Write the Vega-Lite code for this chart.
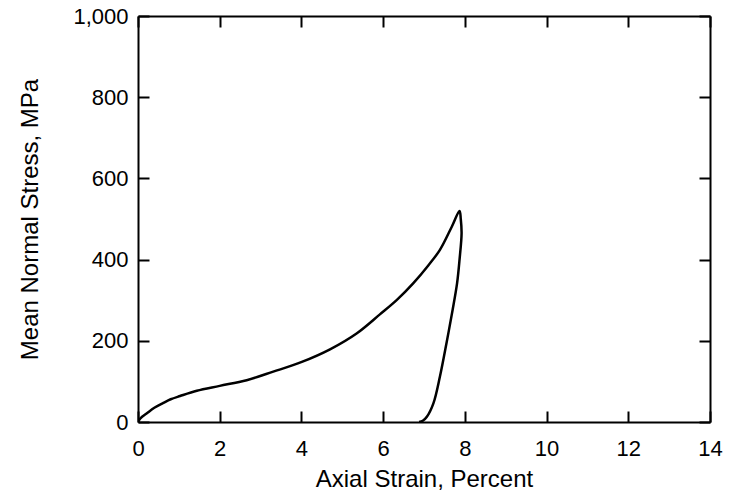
{
  "$schema": "https://vega.github.io/schema/vega-lite/v6.json",
  "width": 572,
  "height": 406,
  "autosize": {"type": "none"},
  "padding": {"left": 138, "top": 16, "right": 26, "bottom": 76},
  "background": "white",
  "config": {
    "view": {"stroke": null},
    "font": "Liberation Sans",
    "axis": {
      "domainColor": "black",
      "domainWidth": 2,
      "tickColor": "black",
      "tickWidth": 2,
      "tickSize": -11,
      "grid": false,
      "labelFlush": false,
      "labelFont": "Liberation Sans",
      "labelFontSize": 22,
      "labelColor": "black",
      "titleFont": "Liberation Sans",
      "titleFontSize": 24,
      "titleFontWeight": "normal",
      "titleColor": "black"
    }
  },
  "data": {
    "values": [
      {"i": 0, "strain": 0, "stress": 0},
      {"i": 1, "strain": 0.05, "stress": 8},
      {"i": 2, "strain": 0.1, "stress": 13},
      {"i": 3, "strain": 0.21, "stress": 21},
      {"i": 4, "strain": 0.4, "stress": 35},
      {"i": 5, "strain": 0.62, "stress": 47},
      {"i": 6, "strain": 0.8, "stress": 56},
      {"i": 7, "strain": 1.03, "stress": 64},
      {"i": 8, "strain": 1.44, "stress": 77},
      {"i": 9, "strain": 2.0, "stress": 89},
      {"i": 10, "strain": 2.66, "stress": 103},
      {"i": 11, "strain": 3.31, "stress": 124},
      {"i": 12, "strain": 4.01, "stress": 148},
      {"i": 13, "strain": 4.7, "stress": 179},
      {"i": 14, "strain": 5.35, "stress": 218},
      {"i": 15, "strain": 5.92, "stress": 265},
      {"i": 16, "strain": 6.33, "stress": 300},
      {"i": 17, "strain": 6.74, "stress": 342},
      {"i": 18, "strain": 7.1, "stress": 385},
      {"i": 19, "strain": 7.39, "stress": 424},
      {"i": 20, "strain": 7.68, "stress": 481},
      {"i": 21, "strain": 7.87, "stress": 520},
      {"i": 22, "strain": 7.9, "stress": 500},
      {"i": 23, "strain": 7.92, "stress": 465},
      {"i": 24, "strain": 7.87, "stress": 400},
      {"i": 25, "strain": 7.81, "stress": 342},
      {"i": 26, "strain": 7.7, "stress": 276},
      {"i": 27, "strain": 7.55, "stress": 194},
      {"i": 28, "strain": 7.39, "stress": 112},
      {"i": 29, "strain": 7.23, "stress": 46},
      {"i": 30, "strain": 7.07, "stress": 13},
      {"i": 31, "strain": 6.97, "stress": 3},
      {"i": 32, "strain": 6.88, "stress": 0}
    ]
  },
  "layer": [
    {
      "mark": {"type": "line", "color": "black", "strokeWidth": 2.5, "interpolate": "catmull-rom", "clip": true},
      "encoding": {
        "x": {
          "field": "strain", "type": "quantitative",
          "scale": {"domain": [0, 14], "nice": false},
          "axis": {"values": [0, 2, 4, 6, 8, 10, 12, 14], "title": "Axial Strain, Percent", "labelPadding": 27, "titlePadding": 8}
        },
        "y": {
          "field": "stress", "type": "quantitative",
          "scale": {"domain": [0, 1000], "nice": false},
          "axis": {"values": [0, 200, 400, 600, 800, 1000], "format": ",d", "title": "Mean Normal Stress, MPa", "labelPadding": 21, "titlePadding": 30}
        },
        "order": {"field": "i", "type": "quantitative"}
      }
    },
    {
      "mark": {"type": "line", "opacity": 0},
      "encoding": {
        "x": {
          "field": "strain", "type": "quantitative",
          "scale": {"domain": [0, 14], "nice": false},
          "axis": {"orient": "top", "values": [0, 2, 4, 6, 8, 10, 12, 14], "labels": false, "title": null}
        },
        "y": {
          "field": "stress", "type": "quantitative",
          "scale": {"domain": [0, 1000], "nice": false},
          "axis": {"orient": "right", "values": [0, 200, 400, 600, 800, 1000], "labels": false, "title": null}
        },
        "order": {"field": "i", "type": "quantitative"}
      }
    }
  ],
  "resolve": {"axis": {"x": "independent", "y": "independent"}}
}
